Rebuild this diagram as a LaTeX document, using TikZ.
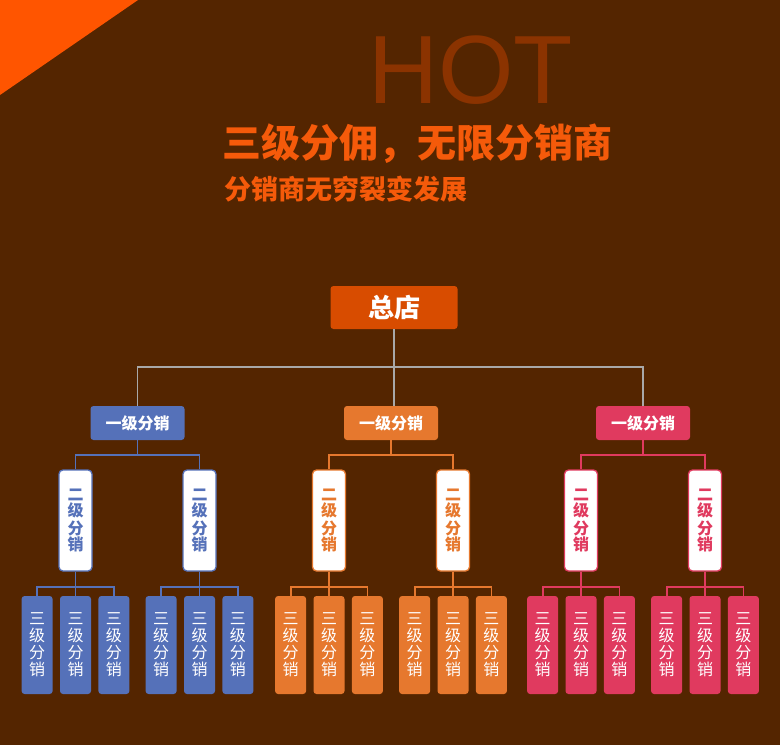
\documentclass[tikz,border=0pt]{standalone}
\usepackage{fontspec}
\usetikzlibrary{positioning, calc}
\newfontfamily\cjk{Noto Sans CJK SC}
\newfontfamily\hotfont{Liberation Sans}
\definecolor{bgbrown}{HTML}{542500}
\definecolor{hotred}{HTML}{8B3300}
\definecolor{flame}{HTML}{F55A0A}
\definecolor{cornerorange}{HTML}{FF5500}
\definecolor{rootfill}{HTML}{D84C00}
\definecolor{sblue}{HTML}{5571B9}
\definecolor{sorange}{HTML}{E6782E}
\definecolor{spink}{HTML}{E03A5F}
\definecolor{trunkgray}{HTML}{A8A8A8}

\begin{document}
\begin{tikzpicture}[
  x=1pt, y=-1pt,
  rootbox/.style={fill=rootfill, rounded corners=3pt, minimum width=127pt,
    minimum height=43pt, inner sep=0pt, text=white,
    font=\cjk\bfseries\fontsize{26}{28}\selectfont},
  lvone/.style={rounded corners=3pt, minimum width=94pt, minimum height=34pt,
    inner sep=0pt, text=white, font=\cjk\bfseries\fontsize{16}{18}\selectfont},
  lvtwo/.style={fill=white, line width=1.3pt, rounded corners=4pt,
    minimum width=33pt, minimum height=101pt, inner sep=0pt, align=center,
    font=\cjk\bfseries\fontsize{16}{17}\selectfont},
  lvthree/.style={rounded corners=3pt, minimum width=31pt, minimum height=98pt,
    inner sep=0pt, align=center, text=white,
    font=\cjk\fontsize{16}{17}\selectfont},
  trunk/.style={draw=trunkgray, line width=1.6pt},
  branch/.style={line width=1.8pt}
]
% background and corner
\fill[bgbrown] (0,0) rectangle (780,745);
\fill[cornerorange] (0,0) -- (138,0) -- (0,95) -- cycle;

% headings
\node[anchor=base west, inner sep=0pt, text=hotred,
  font=\hotfont\fontsize{97}{97}\selectfont] (hot) at (368,103) {HOT};
\node[anchor=west, inner sep=0pt, text=flame,
  font=\cjk\bfseries\fontsize{39}{41}\selectfont] (title) at (222,143.5) {三级分佣，无限分销商};
\node[anchor=west, inner sep=0pt, text=flame,
  font=\cjk\bfseries\fontsize{27}{29}\selectfont] (subtitle) at (224,189.5) {分销商无穷裂变发展};

% head office
\node[rootbox] (root) at (394,307.5) {总店};

% three branches
\foreach \c/\col/\g in {137.5/sblue/a, 391/sorange/b, 643/spink/c} {
  \node[lvone, fill=\col] (\g) at (\c,423) {一级分销};
  \foreach \k/\dx in {1/-62, 2/62} {
    \node[lvtwo, draw=\col, text=\col] (\g\k) at (\c+\dx,520.5) {二\\级\\分\\销};
    \draw[branch, draw=\col] (\g.south) -- ++(0,15) -| (\g\k.north);
    \node[lvthree, fill=\col] (\g\k m) at ($(\g\k)+(0,124.5)$) {三\\级\\分\\销};
    \node[lvthree, fill=\col, left=7pt of \g\k m] (\g\k l) {三\\级\\分\\销};
    \node[lvthree, fill=\col, right=7pt of \g\k m] (\g\k r) {三\\级\\分\\销};
    \draw[branch, draw=\col] (\g\k.south) -- (\g\k m.north);
    \draw[branch, draw=\col] (\g\k.south) -- ++(0,15) -| (\g\k l.north);
    \draw[branch, draw=\col] (\g\k.south) -- ++(0,15) -| (\g\k r.north);
  }
}

% links from head office
\draw[trunk] (root.south) -- (root.south |- b.north);
\draw[trunk] (a.north) -- ++(0,-39) -| (c.north);
\end{tikzpicture}
\end{document}
